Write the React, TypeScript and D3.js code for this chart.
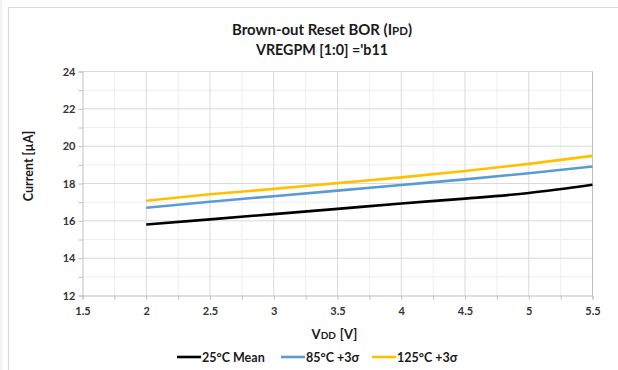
import React, { useEffect, useRef } from "react";
import * as d3 from "d3";

const vdd = [2, 2.5, 3, 3.5, 4, 4.5, 5, 5.5];
const mean25 = [15.8, 16.08, 16.36, 16.64, 16.93, 17.19, 17.49, 17.93];
const sigma85 = [16.7, 17.02, 17.32, 17.62, 17.92, 18.22, 18.55, 18.91];
const sigma125 = [17.08, 17.42, 17.71, 18.02, 18.33, 18.67, 19.05, 19.48];
const seriesNames = ["25°C Mean", "85°C +3σ", "125°C +3σ"];
const seriesColors = ["#000000", "#5B9BD5", "#FFC000"];

const font = "Lato, 'Open Sans', sans-serif";

const BorChart: React.FC = () => {
  const svgRef = useRef<SVGSVGElement | null>(null);

  useEffect(() => {
    if (!svgRef.current) return;
    const width = 618;
    const height = 370;
    const svg = d3.select(svgRef.current);
    svg.selectAll("*").remove();
    svg.attr("width", width).attr("height", height);

    svg.append("rect").attr("width", width).attr("height", height).attr("fill", "#fff");
    // outer frame
    svg.append("line").attr("x1", 1).attr("x2", 1).attr("y1", 0).attr("y2", height)
      .attr("stroke", "#e6e6e6");
    svg.append("path").attr("d", `M8.5,${height} V7.5 H${width}`)
      .attr("fill", "none").attr("stroke", "#d9d9d9").attr("stroke-width", 1.2);

    const x = d3.scaleLinear().domain([1.5, 5.5]).range([82.5, 592.5]);
    const y = d3.scaleLinear().domain([12, 24]).range([295.5, 71.5]);

    const g = svg.append("g");
    // minor grid
    g.selectAll(".vminor").data(d3.range(1.75, 5.5, 0.5)).enter().append("line")
      .attr("x1", d => x(d)).attr("x2", d => x(d)).attr("y1", y(12)).attr("y2", y(24))
      .attr("stroke", "#efefef");
    g.selectAll(".hminor").data(d3.range(13, 24, 2)).enter().append("line")
      .attr("x1", x(1.5)).attr("x2", x(5.5)).attr("y1", d => y(d)).attr("y2", d => y(d))
      .attr("stroke", "#efefef");
    // major grid
    g.selectAll(".vmajor").data(d3.range(2, 5.51, 0.5)).enter().append("line")
      .attr("x1", d => x(d)).attr("x2", d => x(d)).attr("y1", y(12)).attr("y2", y(24))
      .attr("stroke", "#d9d9d9");
    g.selectAll(".hmajor").data(d3.range(14, 24.1, 2)).enter().append("line")
      .attr("x1", x(1.5)).attr("x2", x(5.5)).attr("y1", d => y(d)).attr("y2", d => y(d))
      .attr("stroke", "#d9d9d9");

    // axes
    const xAxis = svg.append("g").attr("transform", `translate(0,${y(12)})`)
      .call(d3.axisBottom(x).tickValues(d3.range(1.5, 5.51, 0.25)).tickSize(4)
        .tickFormat(d => ((+d * 4) % 2 === 0 ? d3.format("")(+d) : "")));
    xAxis.select(".domain").attr("stroke", "#bfbfbf");
    xAxis.selectAll(".tick line").attr("stroke", "#bfbfbf");
    xAxis.selectAll("text").attr("font-family", font).attr("font-weight", "bold")
      .attr("font-size", 11).attr("fill", "#333").attr("dy", "1.1em");

    const yAxis = svg.append("g").attr("transform", `translate(${x(1.5)},0)`)
      .call(d3.axisLeft(y).tickValues(d3.range(12, 24.1, 1)).tickSize(4)
        .tickFormat(d => (+d % 2 === 0 ? String(d) : "")));
    yAxis.select(".domain").attr("stroke", "#bfbfbf");
    yAxis.selectAll(".tick line").attr("stroke", "#bfbfbf");
    yAxis.selectAll("text").attr("font-family", font).attr("font-weight", "bold")
      .attr("font-size", 11).attr("fill", "#333");

    // right plot border
    svg.append("line").attr("x1", x(5.5)).attr("x2", x(5.5)).attr("y1", y(12)).attr("y2", y(24))
      .attr("stroke", "#bfbfbf");

    // series
    const allSeries = [mean25, sigma85, sigma125];
    const line = d3.line<number>().x((_, i) => x(vdd[i])).y(d => y(d)).curve(d3.curveMonotoneX);
    allSeries.forEach((s, i) => {
      svg.append("path").datum(s).attr("d", line).attr("fill", "none")
        .attr("stroke", seriesColors[i]).attr("stroke-width", 2.6);
    });

    // title
    const title = svg.append("text").attr("x", 322).attr("y", 35).attr("text-anchor", "middle")
      .attr("font-family", font).attr("font-weight", "bold").attr("font-size", 15).attr("fill", "#1a1a1a")
      .attr("textLength", 180).attr("lengthAdjust", "spacingAndGlyphs");
    title.append("tspan").text("Brown-out Reset BOR (I");
    title.append("tspan").attr("font-size", 11.5).text("PD");
    title.append("tspan").text(")");
    svg.append("text").attr("x", 322).attr("y", 55).attr("text-anchor", "middle")
      .attr("font-family", font).attr("font-weight", "bold").attr("font-size", 15).attr("fill", "#1a1a1a")
      .attr("textLength", 132).attr("lengthAdjust", "spacingAndGlyphs")
      .text("VREGPM [1:0] ='b11");

    // axis titles
    const xt = svg.append("text").attr("x", 334.5).attr("y", 339).attr("text-anchor", "middle")
      .attr("font-family", font).attr("font-weight", "bold").attr("font-size", 13).attr("fill", "#1a1a1a");
    xt.append("tspan").text("V");
    xt.append("tspan").attr("font-size", 10).text("DD");
    xt.append("tspan").attr("dx", 4).text("[V]");
    svg.append("text").attr("transform", `translate(33,166) rotate(-90)`).attr("text-anchor", "middle")
      .attr("font-family", font).attr("font-weight", "bold").attr("font-size", 12.5).attr("fill", "#1a1a1a")
      .text("Current [µA]");

    // legend
    const legendX = [177, 281, 372];
    seriesNames.forEach((name, i) => {
      const lg = svg.append("g").attr("transform", `translate(${legendX[i]},357)`);
      lg.append("line").attr("x1", 0).attr("x2", 24).attr("stroke", seriesColors[i]).attr("stroke-width", 2.6);
      lg.append("text").attr("x", 25).attr("dy", "0.36em").attr("font-family", font)
        .attr("font-weight", "bold").attr("font-size", 12.5).attr("fill", "#1a1a1a").text(name);
    });
  }, []);

  return <svg ref={svgRef} style={{ position: "absolute", left: 0, top: 0 }}></svg>;
};

export default function App() {
  return <BorChart />;
}
